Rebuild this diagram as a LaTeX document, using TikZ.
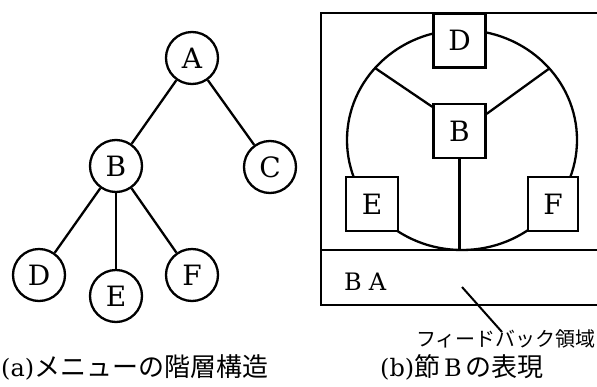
\documentclass[tikz,border=0pt]{standalone}
\usepackage{fontspec}
\setmainfont{DejaVu Serif}
\newfontfamily\jp{Noto Sans CJK JP}
\usetikzlibrary{calc}
\begin{document}
\begin{tikzpicture}[x=1pt,y=-1pt, line width=2.3pt,
  circ/.style={circle, draw, minimum size=52pt, inner sep=0pt, font=\fontsize{28}{28}\selectfont},
  sq/.style={rectangle, draw, fill=white, minimum width=52pt, minimum height=54pt, inner sep=0pt, font=\fontsize{28}{28}\selectfont},
  lbl/.style={inner sep=0pt},
]
\useasboundingbox (0,0) rectangle (597,386);
\clip (0,0) rectangle (597,386);
% (a) tree
\node[circ] (A) at (192,58) {A};
\node[circ] (B) at (116,166) {B};
\node[circ] (C) at (270,167) {C};
\node[circ] (D) at (39,275) {D};
\node[circ] (E) at (116,296) {E};
\node[circ] (F) at (192,275) {F};
\draw (A) -- (B);
\draw (A) -- (C);
\draw (B) -- (D);
\draw (B) -- (E);
\draw (B) -- (F);
\node[lbl, anchor=west, font=\fontsize{24}{24}\selectfont] (capA) at (0,367) {(a){\jp\fontsize{26}{26}\selectfont メニューの階層構造}};
% (b) node representation
\draw (321,13) rectangle (620,305);
\coordinate (divl) at (321,250);
\coordinate (divr) at (620,250);
\draw (divl) -- (divr);
\draw (462,140) ellipse [x radius=115, y radius=110];
\coordinate (s1) at (375,68);
\coordinate (s2) at (550,68);
\coordinate (bot) at (462,250);
\node[sq] (Db) at (459.5,40.5) {D};
\node[sq] (Bb) at (459.5,131) {B};
\node[sq] (Eb) at (372,204) {E};
\node[sq, minimum width=50pt] (Fb) at (553,204) {F};
\draw (s1) -- ([yshift=-4pt]Bb.north west);
\draw (s2) -- ([yshift=-11pt]Bb.north east);
\draw (Bb.south) -- (Bb.south |- bot);
\node[lbl, anchor=west, font=\fontsize{24}{24}\selectfont] (BA) at (343,282) {B\hspace{0.3em}A};
\coordinate (l1) at (462,287);
\coordinate (l2) at (502,332);
\node[lbl, font=\fontsize{20}{20}\selectfont\jp] (fb) at (506,339) {フィードバック領域};
\draw[line width=2pt] (l1) -- (l2);
\node[lbl, anchor=west, font=\fontsize{24}{24}\selectfont] (capB) at (379,367) {(b){\jp\fontsize{26}{26}\selectfont 節}\,B\,{\jp\fontsize{26}{26}\selectfont の表現}};
\end{tikzpicture}
\end{document}
